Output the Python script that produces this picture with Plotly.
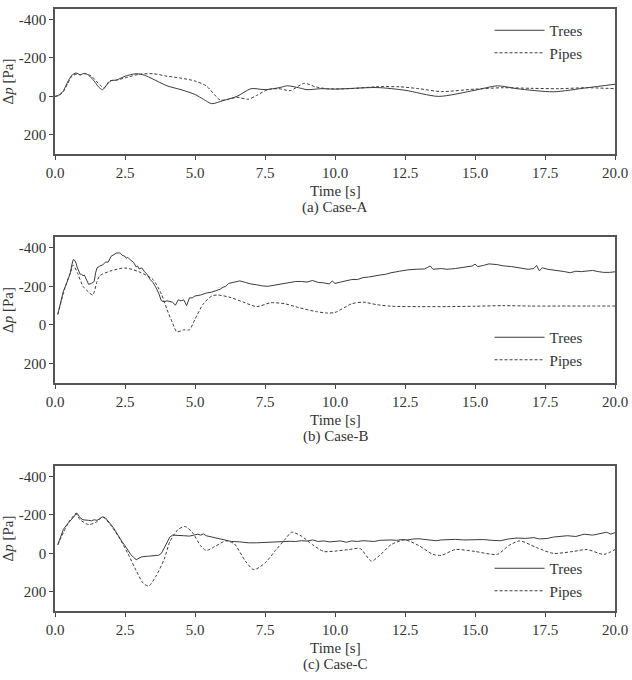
import plotly.graph_objects as go

# ---------------- data ----------------
# Case A
a_trees_t = [0.0, 0.15, 0.3, 0.45, 0.6, 0.75, 0.9, 1.05, 1.2, 1.4, 1.55, 1.7, 1.85, 2.0, 2.2, 2.5, 2.9, 3.2, 3.5, 4.0, 4.5, 5.0, 5.3, 5.6, 6.0, 6.5, 7.0, 7.5, 8.0, 8.3, 8.7, 9.0, 9.5, 10.0, 11.5, 12.5, 13.7, 15.0, 15.8, 16.5, 17.8, 19.0, 20.0]
a_trees_v = [0, -8, -30, -75, -110, -122, -113, -120, -110, -80, -50, -35, -60, -82, -85, -105, -118, -110, -90, -55, -35, -10, 15, 38, 22, 0, -40, -35, -45, -55, -45, -35, -40, -38, -46, -32, 0, -32, -55, -40, -24, -45, -63]
a_pipes_t = [0.0, 0.15, 0.3, 0.45, 0.6, 0.75, 0.9, 1.1, 1.3, 1.6, 1.75, 1.95, 2.2, 2.6, 3.0, 3.5, 4.0, 4.5, 5.0, 5.4, 5.9, 6.2, 6.5, 6.9, 7.2, 7.6, 8.0, 8.4, 8.9, 9.3, 9.7, 10.5, 11.5, 12.3, 13.0, 13.8, 15.0, 16.0, 17.0, 18.0, 19.0, 20.0]
a_pipes_v = [0, -5, -25, -65, -105, -115, -112, -118, -105, -60, -45, -80, -85, -100, -115, -118, -105, -95, -80, -55, 19, 15, 5, 15, -5, -35, -40, -30, -68, -50, -40, -40, -50, -50, -40, -25, -38, -45, -42, -40, -45, -40]

# Case B
b_trees_t = [0.1, 0.2, 0.3, 0.4, 0.5, 0.55, 0.6, 0.65, 0.7, 0.75, 0.8, 0.85, 0.9, 0.95, 1.0, 1.05, 1.1, 1.2, 1.3, 1.4, 1.45, 1.5, 1.6, 1.7, 1.8, 1.9, 2.0, 2.1, 2.2, 2.3, 2.35, 2.4, 2.5, 2.55, 2.6, 2.7, 2.8, 2.9, 2.95, 3.0, 3.1, 3.2, 3.3, 3.4, 3.5, 3.6, 3.7, 3.8, 3.9, 4.0, 4.1, 4.2, 4.3, 4.4, 4.5, 4.6, 4.7, 4.8, 4.9, 5.0, 5.2, 5.4, 5.6, 5.8, 5.9, 6.0, 6.1, 6.2, 6.4, 6.6, 6.8, 7.0, 7.2, 7.4, 7.6, 7.8, 8.0, 8.2, 8.4, 8.6, 8.8, 9.0, 9.2, 9.4, 9.6, 9.8, 9.9, 10.0, 10.2, 10.4, 10.6, 10.8, 11.0, 11.2, 11.4, 11.6, 11.8, 12.0, 12.3, 12.6, 12.9, 13.2, 13.4, 13.5, 13.8, 14.0, 14.3, 14.6, 14.9, 15.0, 15.1, 15.3, 15.5, 15.8, 16.0, 16.3, 16.6, 16.9, 17.1, 17.2, 17.3, 17.4, 17.6, 17.8, 18.0, 18.2, 18.4, 18.6, 18.8, 19.0, 19.2, 19.4, 19.6, 19.8, 20.0]
b_trees_v = [-55, -120, -175, -210, -245, -270, -310, -338, -335, -320, -295, -275, -262, -262, -255, -258, -240, -210, -215, -225, -270, -295, -305, -310, -325, -325, -355, -365, -372, -373, -370, -360, -355, -345, -350, -335, -325, -300, -305, -290, -295, -275, -260, -235, -220, -195, -165, -125, -120, -125, -123, -118, -102, -130, -125, -130, -100, -140, -140, -150, -155, -165, -170, -180, -185, -195, -200, -215, -220, -228, -220, -212, -208, -202, -200, -205, -212, -215, -222, -225, -225, -222, -230, -220, -218, -212, -228, -215, -222, -228, -235, -235, -245, -248, -255, -258, -262, -270, -278, -285, -288, -290, -305, -288, -292, -288, -292, -298, -305, -315, -302, -308, -316, -312, -306, -302, -295, -288, -292, -308, -280, -296, -288, -285, -280, -276, -270, -278, -276, -280, -282, -276, -272, -272, -275]
b_pipes_t = [0.1, 0.35, 0.55, 0.65, 0.8, 1.0, 1.2, 1.35, 1.5, 1.6, 2.0, 2.5, 3.0, 3.5, 3.8, 4.0, 4.2, 4.35, 4.6, 4.8, 5.0, 5.3, 5.6, 5.8, 6.2, 6.7, 7.2, 7.7, 8.2, 8.7, 9.3, 9.7, 10.0, 10.6, 11.0, 11.5, 12.0, 13.0, 14.0, 15.0, 16.0, 17.0, 18.0, 19.0, 20.0]
b_pipes_v = [-55, -190, -270, -310, -270, -200, -170, -155, -225, -255, -280, -295, -275, -235, -160, -80, -10, 35, 25, 25, -30, -110, -150, -155, -145, -120, -95, -115, -110, -90, -70, -62, -65, -110, -118, -105, -97, -95, -95, -97, -100, -98, -98, -98, -98]

# Case C
c_trees_t = [0.1, 0.2, 0.3, 0.4, 0.5, 0.6, 0.7, 0.75, 0.8, 0.85, 0.9, 1.0, 1.1, 1.2, 1.3, 1.4, 1.5, 1.6, 1.7, 1.8, 1.9, 2.0, 2.1, 2.2, 2.3, 2.4, 2.5, 2.6, 2.7, 2.8, 2.9, 3.0, 3.1, 3.3, 3.5, 3.7, 3.8, 3.9, 4.0, 4.1, 4.2, 4.4, 4.6, 4.8, 5.0, 5.1, 5.2, 5.3, 5.4, 5.6, 5.8, 6.0, 6.3, 6.6, 6.9, 7.2, 7.5, 7.8, 8.0, 8.2, 8.4, 8.6, 8.8, 9.0, 9.2, 9.4, 9.6, 9.8, 10.0, 10.2, 10.4, 10.6, 10.8, 11.0, 11.2, 11.4, 11.6, 11.8, 12.0, 12.2, 12.4, 12.6, 12.8, 13.0, 13.2, 13.4, 13.6, 13.8, 14.0, 14.3, 14.6, 15.0, 15.3, 15.6, 15.9, 16.2, 16.5, 16.8, 17.1, 17.3, 17.6, 17.8, 18.0, 18.3, 18.6, 18.9, 19.2, 19.5, 19.7, 19.85, 20.0]
c_trees_v = [-45, -90, -125, -145, -160, -175, -195, -210, -208, -195, -185, -175, -175, -172, -170, -175, -172, -180, -190, -185, -170, -150, -130, -105, -85, -60, -40, -15, 5, 20, 33, 25, 18, 15, 12, 10, 0, -30, -60, -85, -95, -95, -92, -90, -95, -100, -95, -102, -92, -85, -78, -70, -62, -60, -55, -55, -57, -58, -62, -60, -63, -62, -66, -64, -70, -62, -65, -60, -62, -65, -58, -65, -62, -66, -64, -62, -68, -70, -70, -68, -72, -70, -75, -76, -72, -70, -66, -70, -72, -73, -70, -72, -72, -68, -66, -75, -80, -78, -82, -75, -78, -85, -88, -92, -88, -100, -95, -102, -110, -100, -108]
c_pipes_t = [0.1, 0.5, 0.75, 0.9, 1.2, 1.5, 1.7, 2.0, 2.3, 2.6, 2.9, 3.15, 3.35, 3.6, 3.9, 4.1, 4.4, 4.65, 4.9, 5.2, 5.4, 5.7, 6.1, 6.4, 6.8, 7.1, 7.5, 7.9, 8.2, 8.45, 8.8, 9.2, 9.6, 10.0, 10.5, 10.9, 11.3, 11.6, 12.0, 12.5, 13.0, 13.5, 13.8, 14.3, 15.0, 15.8, 16.2, 16.6, 17.2, 17.8, 18.5, 19.0, 19.6, 20.0]
c_pipes_v = [-45, -165, -205, -175, -150, -165, -190, -145, -80, 0, 90, 155, 170, 120, 30, -60, -125, -140, -110, -40, -15, -35, -65, -50, 40, 85, 50, -20, -70, -110, -90, -45, -10, -12, -20, -25, 40, 10, -45, -70, -40, 5, 10, -20, -10, 5, -40, -65, -30, 0, -10, -20, 5, -20]

y_tickvals = [-400, -200, 0, 200]
y_ticktext = ["-400", "-200", "0", "200"]
x_tickvals = [0, 2.5, 5, 7.5, 10, 12.5, 15, 17.5, 20]
captions = ["(a) Case-A", "(b) Case-B", "(c) Case-C"]
series_names = ["Trees", "Pipes"]

# ---------------- layout ----------------
W, H = 632, 680
FONT = "Liberation Serif"
FS = 15
LINE_COLOR = "#3c3c3c"
TXT = "#333333"

# panel pixel boxes (top, bottom)
panels = [(9, 154), (237, 383), (466, 611)]
legend_y = [14, 321, 552]

fig = go.Figure()
data = [
    (a_trees_t, a_trees_v, a_pipes_t, a_pipes_v),
    (b_trees_t, b_trees_v, b_pipes_t, b_pipes_v),
    (c_trees_t, c_trees_v, c_pipes_t, c_pipes_v),
]
smooth_trees = [True, False, False]

for i, (tt, tv, pt, pv) in enumerate(data):
    xa = "x" if i == 0 else f"x{i+1}"
    ya = "y" if i == 0 else f"y{i+1}"
    lg = "legend" if i == 0 else f"legend{i+1}"
    fig.add_trace(go.Scatter(
        x=tt, y=tv, mode="lines", name=series_names[0], xaxis=xa, yaxis=ya, legend=lg,
        line=dict(color=LINE_COLOR, width=1,
                  shape="spline" if smooth_trees[i] else "linear", smoothing=0.7),
    ))
    fig.add_trace(go.Scatter(
        x=pt, y=pv, mode="lines", name=series_names[1], xaxis=xa, yaxis=ya, legend=lg,
        line=dict(color=LINE_COLOR, width=1, dash="3px,2px", shape="spline", smoothing=0.7),
    ))

layout = dict(
    width=W, height=H,
    margin=dict(l=55, r=17, t=0, b=0),
    paper_bgcolor="white", plot_bgcolor="white",
    font=dict(family=FONT, size=FS, color=TXT),
    showlegend=True,
)

annotations = []
for i, (top, bot) in enumerate(panels):
    xk = "xaxis" if i == 0 else f"xaxis{i+1}"
    yk = "yaxis" if i == 0 else f"yaxis{i+1}"
    lk = "legend" if i == 0 else f"legend{i+1}"
    yanchor_name = "y" if i == 0 else f"y{i+1}"
    xanchor_name = "x" if i == 0 else f"x{i+1}"
    d0 = 1 - bot / H
    d1 = 1 - top / H
    layout[xk] = dict(
        domain=[0, 1], anchor=yanchor_name, range=[0, 20],
        tickvals=x_tickvals, tickformat=".1f",
        ticks="outside", ticklen=4, tickcolor="#444", tickwidth=1,
        showline=True, linecolor="#555", linewidth=1.5, mirror=True,
        showgrid=False, zeroline=False,
        tickfont=dict(size=FS, family=FONT, color=TXT),
    )
    layout[yk] = dict(
        domain=[d0, d1], anchor=xanchor_name, range=[300, -455],
        tickvals=y_tickvals, ticktext=y_ticktext,
        ticks="outside", ticklen=4, tickcolor="#444", tickwidth=1,
        showline=True, linecolor="#555", linewidth=1.5, mirror=True,
        showgrid=False, zeroline=False,
        tickfont=dict(size=FS, family=FONT, color=TXT),
        title=dict(text="Δ<i>p</i> [Pa]", font=dict(size=FS, family=FONT, color=TXT), standoff=4),
    )
    layout[lk] = dict(
        x=0.776, xanchor="left", y=1 - legend_y[i] / H, yanchor="top", yref="paper",
        bgcolor="rgba(0,0,0,0)", borderwidth=0, itemwidth=50,
        font=dict(size=FS, family=FONT, color=TXT), tracegroupgap=0,
    )
    annotations.append(dict(
        text="Time [s]", x=0.5, xref="paper", y=1 - (bot + 37) / H, yref="paper",
        xanchor="center", yanchor="middle", showarrow=False,
        font=dict(size=FS, family=FONT, color=TXT),
    ))
    annotations.append(dict(
        text=captions[i], x=0.5, xref="paper", y=1 - (bot + 53) / H, yref="paper",
        xanchor="center", yanchor="middle", showarrow=False,
        font=dict(size=FS, family=FONT, color=TXT),
    ))

layout["annotations"] = annotations
fig.update_layout(**layout)
fig.write_html("out.html")
